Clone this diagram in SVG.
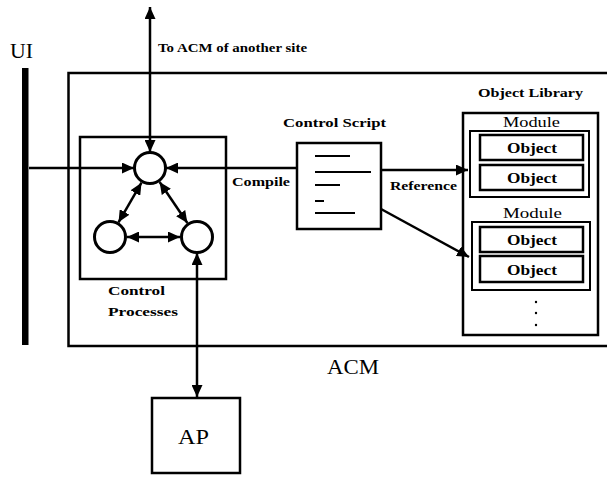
<svg xmlns="http://www.w3.org/2000/svg" width="607" height="477" viewBox="0 0 607 477">
<style>
.ln{fill:none;stroke:#000;stroke-width:2.5}
.bx{fill:none;stroke:#000;stroke-width:2.5}
.cir{fill:#fff;stroke:#000;stroke-width:3}
.t{font-family:"Liberation Serif",serif;fill:#000}
.sm{font-size:13.5px;font-weight:bold}
.lg{font-size:21px}
.md{font-size:15px}
.ob{font-size:14px;font-weight:bold}
</style>
<defs>
<marker id="ah" markerUnits="userSpaceOnUse" markerWidth="13" markerHeight="11" refX="12" refY="5.5" orient="auto-start-reverse">
<path d="M0,0 L12,5.5 L0,11 z" fill="#000"/>
</marker>
</defs>
<rect width="607" height="477" fill="#fff"/>

<g id="ui">
<rect x="22" y="68" width="6.5" height="277" fill="#000"/>
<text class="t lg" x="10" y="58" textLength="23" lengthAdjust="spacingAndGlyphs">UI</text>
</g>

<g id="acm">
<path class="bx" d="M607,73 H68.5 V346 H607"/>
<text class="t lg" x="327" y="374" textLength="52" lengthAdjust="spacingAndGlyphs">ACM</text>
</g>

<g id="control-processes">
<rect class="bx" x="80" y="137" width="146" height="142"/>
<text class="t sm" x="108" y="295" textLength="57" lengthAdjust="spacingAndGlyphs">Control</text>
<text class="t sm" x="108" y="316" textLength="70" lengthAdjust="spacingAndGlyphs">Processes</text>
</g>
<g id="proc-top"><circle class="cir" cx="150" cy="168" r="15.5"/></g>
<g id="proc-left"><circle class="cir" cx="110" cy="237" r="15.5"/></g>
<g id="proc-right"><circle class="cir" cx="197" cy="237" r="15.5"/></g>

<g id="control-script">
<rect class="bx" x="297" y="143" width="84" height="86"/>
<path d="M315,156 H350 M315,172 H371 M315,185 H340 M315,201 H324 M315,213 H355" stroke="#000" stroke-width="1.8"/>
<text class="t sm" x="283" y="127" textLength="103" lengthAdjust="spacingAndGlyphs">Control Script</text>
</g>

<g id="object-library">
<rect class="bx" x="463" y="113" width="135" height="222"/>
<text class="t sm" x="478" y="97" textLength="105" lengthAdjust="spacingAndGlyphs">Object Library</text>
<g id="module1">
<text class="t md" x="503" y="127" textLength="57" lengthAdjust="spacingAndGlyphs">Module</text>
<rect fill="none" stroke="#000" stroke-width="2" x="470" y="131" width="119" height="66"/>
<rect class="bx" x="480" y="135" width="103" height="25" stroke-width="3"/>
<text class="t ob" x="507" y="153" textLength="50" lengthAdjust="spacingAndGlyphs">Object</text>
<rect class="bx" x="480" y="165" width="103" height="25" stroke-width="3"/>
<text class="t ob" x="507" y="183" textLength="50" lengthAdjust="spacingAndGlyphs">Object</text>
</g>
<g id="module2">
<text class="t md" x="503" y="218" textLength="59" lengthAdjust="spacingAndGlyphs">Module</text>
<rect fill="none" stroke="#000" stroke-width="2" x="472" y="222" width="118" height="68"/>
<rect class="bx" x="480" y="227" width="103" height="25" stroke-width="3"/>
<text class="t ob" x="507" y="245" textLength="50" lengthAdjust="spacingAndGlyphs">Object</text>
<rect class="bx" x="480" y="256" width="103" height="26" stroke-width="3"/>
<text class="t ob" x="507" y="275" textLength="50" lengthAdjust="spacingAndGlyphs">Object</text>
</g>
<g fill="#000">
<circle cx="536" cy="302" r="1.2"/>
<circle cx="536" cy="313" r="1.2"/>
<circle cx="536" cy="325" r="1.2"/>
</g>
</g>

<g id="ap">
<rect class="bx" x="152" y="398" width="88" height="75"/>
<text class="t lg" x="178" y="444" textLength="31" lengthAdjust="spacingAndGlyphs">AP</text>
</g>

<g id="connectors">
<line class="ln" x1="150" y1="152" x2="150" y2="7" marker-start="url(#ah)" marker-end="url(#ah)"/>
<text class="t sm" x="158" y="52" textLength="149" lengthAdjust="spacingAndGlyphs">To ACM of another site</text>
<line class="ln" x1="29" y1="168" x2="134" y2="168" marker-end="url(#ah)"/>
<line class="ln" x1="297" y1="168" x2="166" y2="168" marker-end="url(#ah)"/>
<text class="t sm" x="232" y="186" textLength="58" lengthAdjust="spacingAndGlyphs">Compile</text>
<line class="ln" x1="141.5" y1="182.7" x2="118.5" y2="222.3" marker-start="url(#ah)" marker-end="url(#ah)"/>
<line class="ln" x1="159.6" y1="182" x2="187.4" y2="223" marker-start="url(#ah)" marker-end="url(#ah)"/>
<line class="ln" x1="127" y1="237" x2="180" y2="237" marker-start="url(#ah)" marker-end="url(#ah)"/>
<line class="ln" x1="197" y1="253" x2="197" y2="397" marker-start="url(#ah)" marker-end="url(#ah)"/>
<line class="ln" x1="381" y1="170" x2="468" y2="170" marker-end="url(#ah)"/>
<line class="ln" x1="381" y1="209" x2="469" y2="257" stroke-width="3" marker-end="url(#ah)"/>
<text class="t sm" x="390" y="190" textLength="67" lengthAdjust="spacingAndGlyphs">Reference</text>
</g>
</svg>
